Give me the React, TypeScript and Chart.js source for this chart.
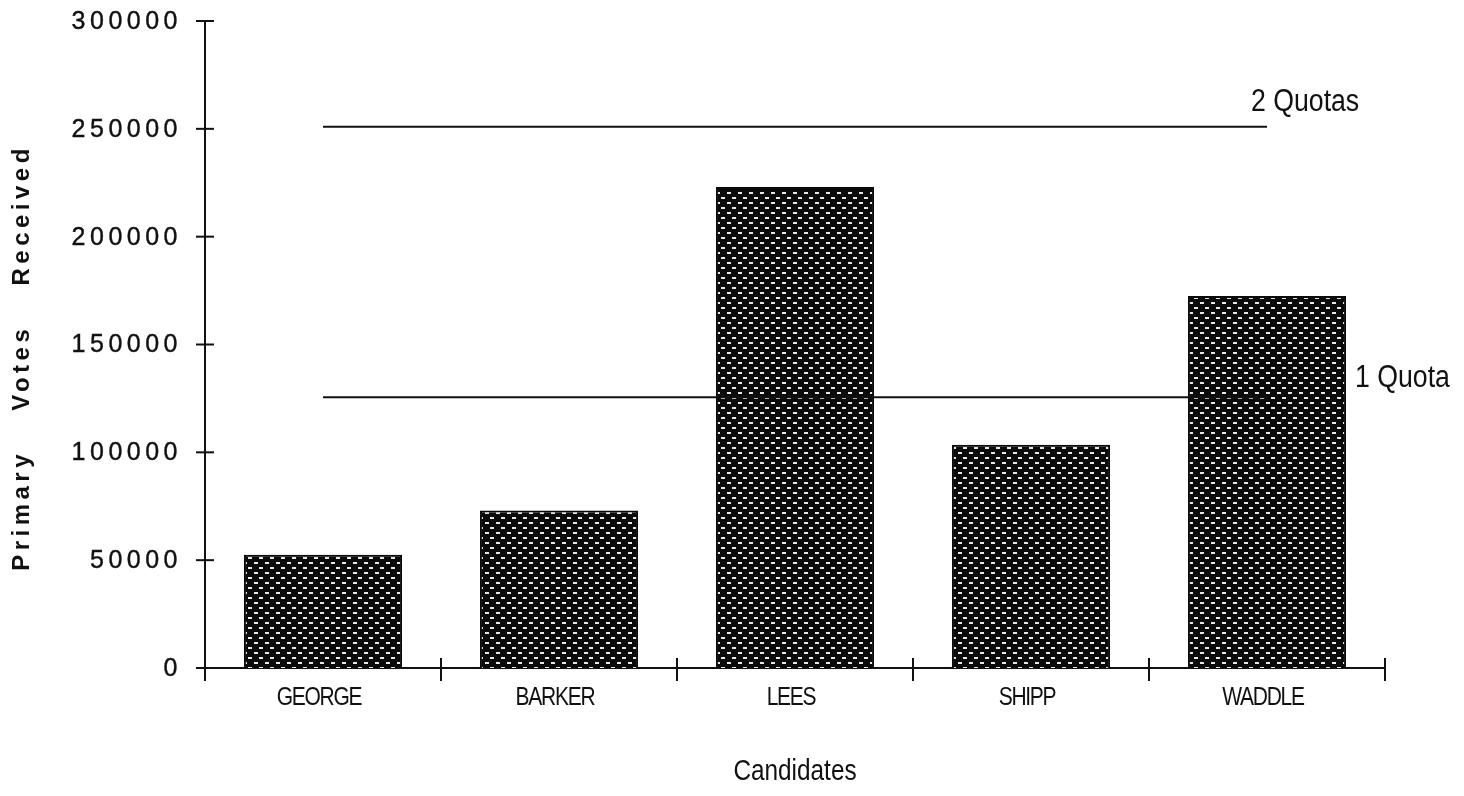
import React, { useEffect, useRef } from 'react';
import { Chart, registerables } from 'chart.js';

Chart.register(...registerables);

const categories = ['GEORGE', 'BARKER', 'LEES', 'SHIPP', 'WADDLE'];
const primaryVotes = [52500, 73000, 223000, 103500, 172500];
const oneQuotaLine = [125500, 125500, 125500, 125500, 125500];
const twoQuotaLine = [251000, 251000, 251000, 251000, 251000];
const yTickValues = [0, 50000, 100000, 150000, 200000, 250000, 300000];
const yTickLabels = ['0', '50000', '100000', '150000', '200000', '250000', '300000'];
const quotaLabels = ['1 Quota', '2 Quotas'];
const xTitle = 'Candidates';
const yTitle = 'Primary Votes Received';

function makePattern(): CanvasPattern | string {
  const c = document.createElement('canvas');
  c.width = 11;
  c.height = 10;
  const g = c.getContext('2d');
  if (!g) return '#222';
  g.fillStyle = '#0a0a0a';
  g.fillRect(0, 0, 11, 10);
  g.fillStyle = '#e8e8e8';
  g.fillRect(1, 2, 4, 2);
  g.fillRect(6, 7, 4, 2);
  const p = g.createPattern(c, 'repeat');
  return p || '#222';
}

function condensedText(ctx: CanvasRenderingContext2D, text: string, x: number, y: number, font: string, sx: number, align: CanvasTextAlign, spacing = '0px') {
  ctx.save();
  ctx.translate(x, y);
  ctx.scale(sx, 1);
  ctx.font = font;
  (ctx as any).letterSpacing = spacing;
  ctx.textAlign = align;
  ctx.textBaseline = 'middle';
  ctx.fillStyle = '#111';
  ctx.fillText(text, 0, 0);
  ctx.restore();
}

const decorPlugin = {
  id: 'decor',
  afterDraw(chart: any) {
    const ctx: CanvasRenderingContext2D = chart.ctx;
    const xs = chart.scales.x;
    const ys = chart.scales.y;
    const area = chart.chartArea;
    ctx.save();
    ctx.strokeStyle = '#111';
    ctx.lineWidth = 2;
    yTickValues.forEach((v) => {
      const py = ys.getPixelForValue(v);
      ctx.beginPath();
      ctx.moveTo(area.left - 9, py);
      ctx.lineTo(area.left + 9, py);
      ctx.stroke();
    });
    for (let i = 0; i <= categories.length; i++) {
      const px = xs.getPixelForValue(i - 0.5);
      ctx.beginPath();
      ctx.moveTo(px, area.bottom - 10);
      ctx.lineTo(px, area.bottom + 13);
      ctx.stroke();
    }
    ctx.restore();

    ctx.save();
    ctx.font = '25px "Liberation Sans", Arial, sans-serif';
    (ctx as any).letterSpacing = '4.5px';
    ctx.textAlign = 'right';
    ctx.textBaseline = 'middle';
    ctx.fillStyle = '#111';
    ctx.strokeStyle = '#111';
    ctx.lineWidth = 0.4;
    yTickValues.forEach((v, i) => {
      const py = ys.getPixelForValue(v);
      ctx.fillText(yTickLabels[i], area.left - 23, py + 1);
      ctx.strokeText(yTickLabels[i], area.left - 23, py + 1);
    });
    ctx.restore();

    categories.forEach((c, i) => {
      const px = xs.getPixelForValue(i);
      condensedText(ctx, c, px - 4, area.bottom + 30, '25px "Liberation Sans", Arial, sans-serif', 0.84, 'center', '-1.5px');
    });

    condensedText(ctx, xTitle, (area.left + area.right) / 2, area.bottom + 104, '29px "Liberation Sans", Arial, sans-serif', 0.84, 'center');

    ctx.save();
    ctx.translate(22, (area.top + area.bottom) / 2 + 13);
    ctx.rotate(-Math.PI / 2);
    ctx.font = 'bold 24px "Liberation Sans", Arial, sans-serif';
    (ctx as any).letterSpacing = '4.5px';
    (ctx as any).wordSpacing = '28px';
    ctx.textAlign = 'center';
    ctx.textBaseline = 'middle';
    ctx.fillStyle = '#111';
    ctx.fillText(yTitle, 0, 0);
    ctx.restore();

    const lastX = xs.getPixelForValue(categories.length - 1);
    const lastRight = xs.getPixelForValue(categories.length - 0.5);
    const y2 = ys.getPixelForValue(twoQuotaLine[twoQuotaLine.length - 1]);
    const y1 = ys.getPixelForValue(oneQuotaLine[oneQuotaLine.length - 1]);
    condensedText(ctx, quotaLabels[1], lastX - 16, y2 - 24, '31px "Liberation Sans", Arial, sans-serif', 0.86, 'left');
    condensedText(ctx, quotaLabels[0], lastRight - 30, y1 - 19, '31px "Liberation Sans", Arial, sans-serif', 0.86, 'left');
  },
};

export default function App() {
  const canvasRef = useRef<HTMLCanvasElement | null>(null);

  useEffect(() => {
    document.body.style.margin = '0';
    const canvas = canvasRef.current;
    if (!canvas) return;
    const pattern = makePattern();
    const chart = new Chart(canvas, {
      type: 'bar',
      data: {
        labels: categories,
        datasets: [
          {
            type: 'bar',
            label: 'Primary Votes Received',
            data: primaryVotes,
            backgroundColor: pattern as any,
            borderColor: '#0a0a0a',
            borderWidth: 2,
            barPercentage: 0.67,
            categoryPercentage: 1.0,
            order: 2,
          },
          {
            type: 'line',
            label: '2 Quotas',
            data: twoQuotaLine,
            borderColor: '#111',
            borderWidth: 2,
            pointRadius: 0,
            fill: false,
            order: 0,
          },
          {
            type: 'line',
            label: '1 Quota',
            data: oneQuotaLine,
            borderColor: '#111',
            borderWidth: 2,
            pointRadius: 0,
            fill: false,
            order: 0,
          },
        ] as any,
      },
      options: {
        responsive: false,
        animation: false,
        layout: { padding: { left: 205, right: 79, top: 21, bottom: 128 } },
        plugins: {
          legend: { display: false },
          tooltip: { enabled: false },
          title: { display: false },
        },
        scales: {
          x: {
            offset: true,
            grid: { display: false, drawTicks: false },
            border: { display: true, color: '#111', width: 2 },
            ticks: { display: false },
          },
          y: {
            min: 0,
            max: 300000,
            ticks: { display: false, stepSize: 50000 },
            grid: { display: false, drawTicks: false },
            border: { display: true, color: '#111', width: 2 },
          },
        },
      },
      plugins: [decorPlugin],
    });
    return () => {
      chart.destroy();
    };
  }, []);

  return (
    <div style={{ position: 'absolute', left: 0, top: 0, width: 1464, height: 796, background: '#fff' }}>
      <canvas ref={canvasRef} width={1464} height={796} />
    </div>
  );
}
